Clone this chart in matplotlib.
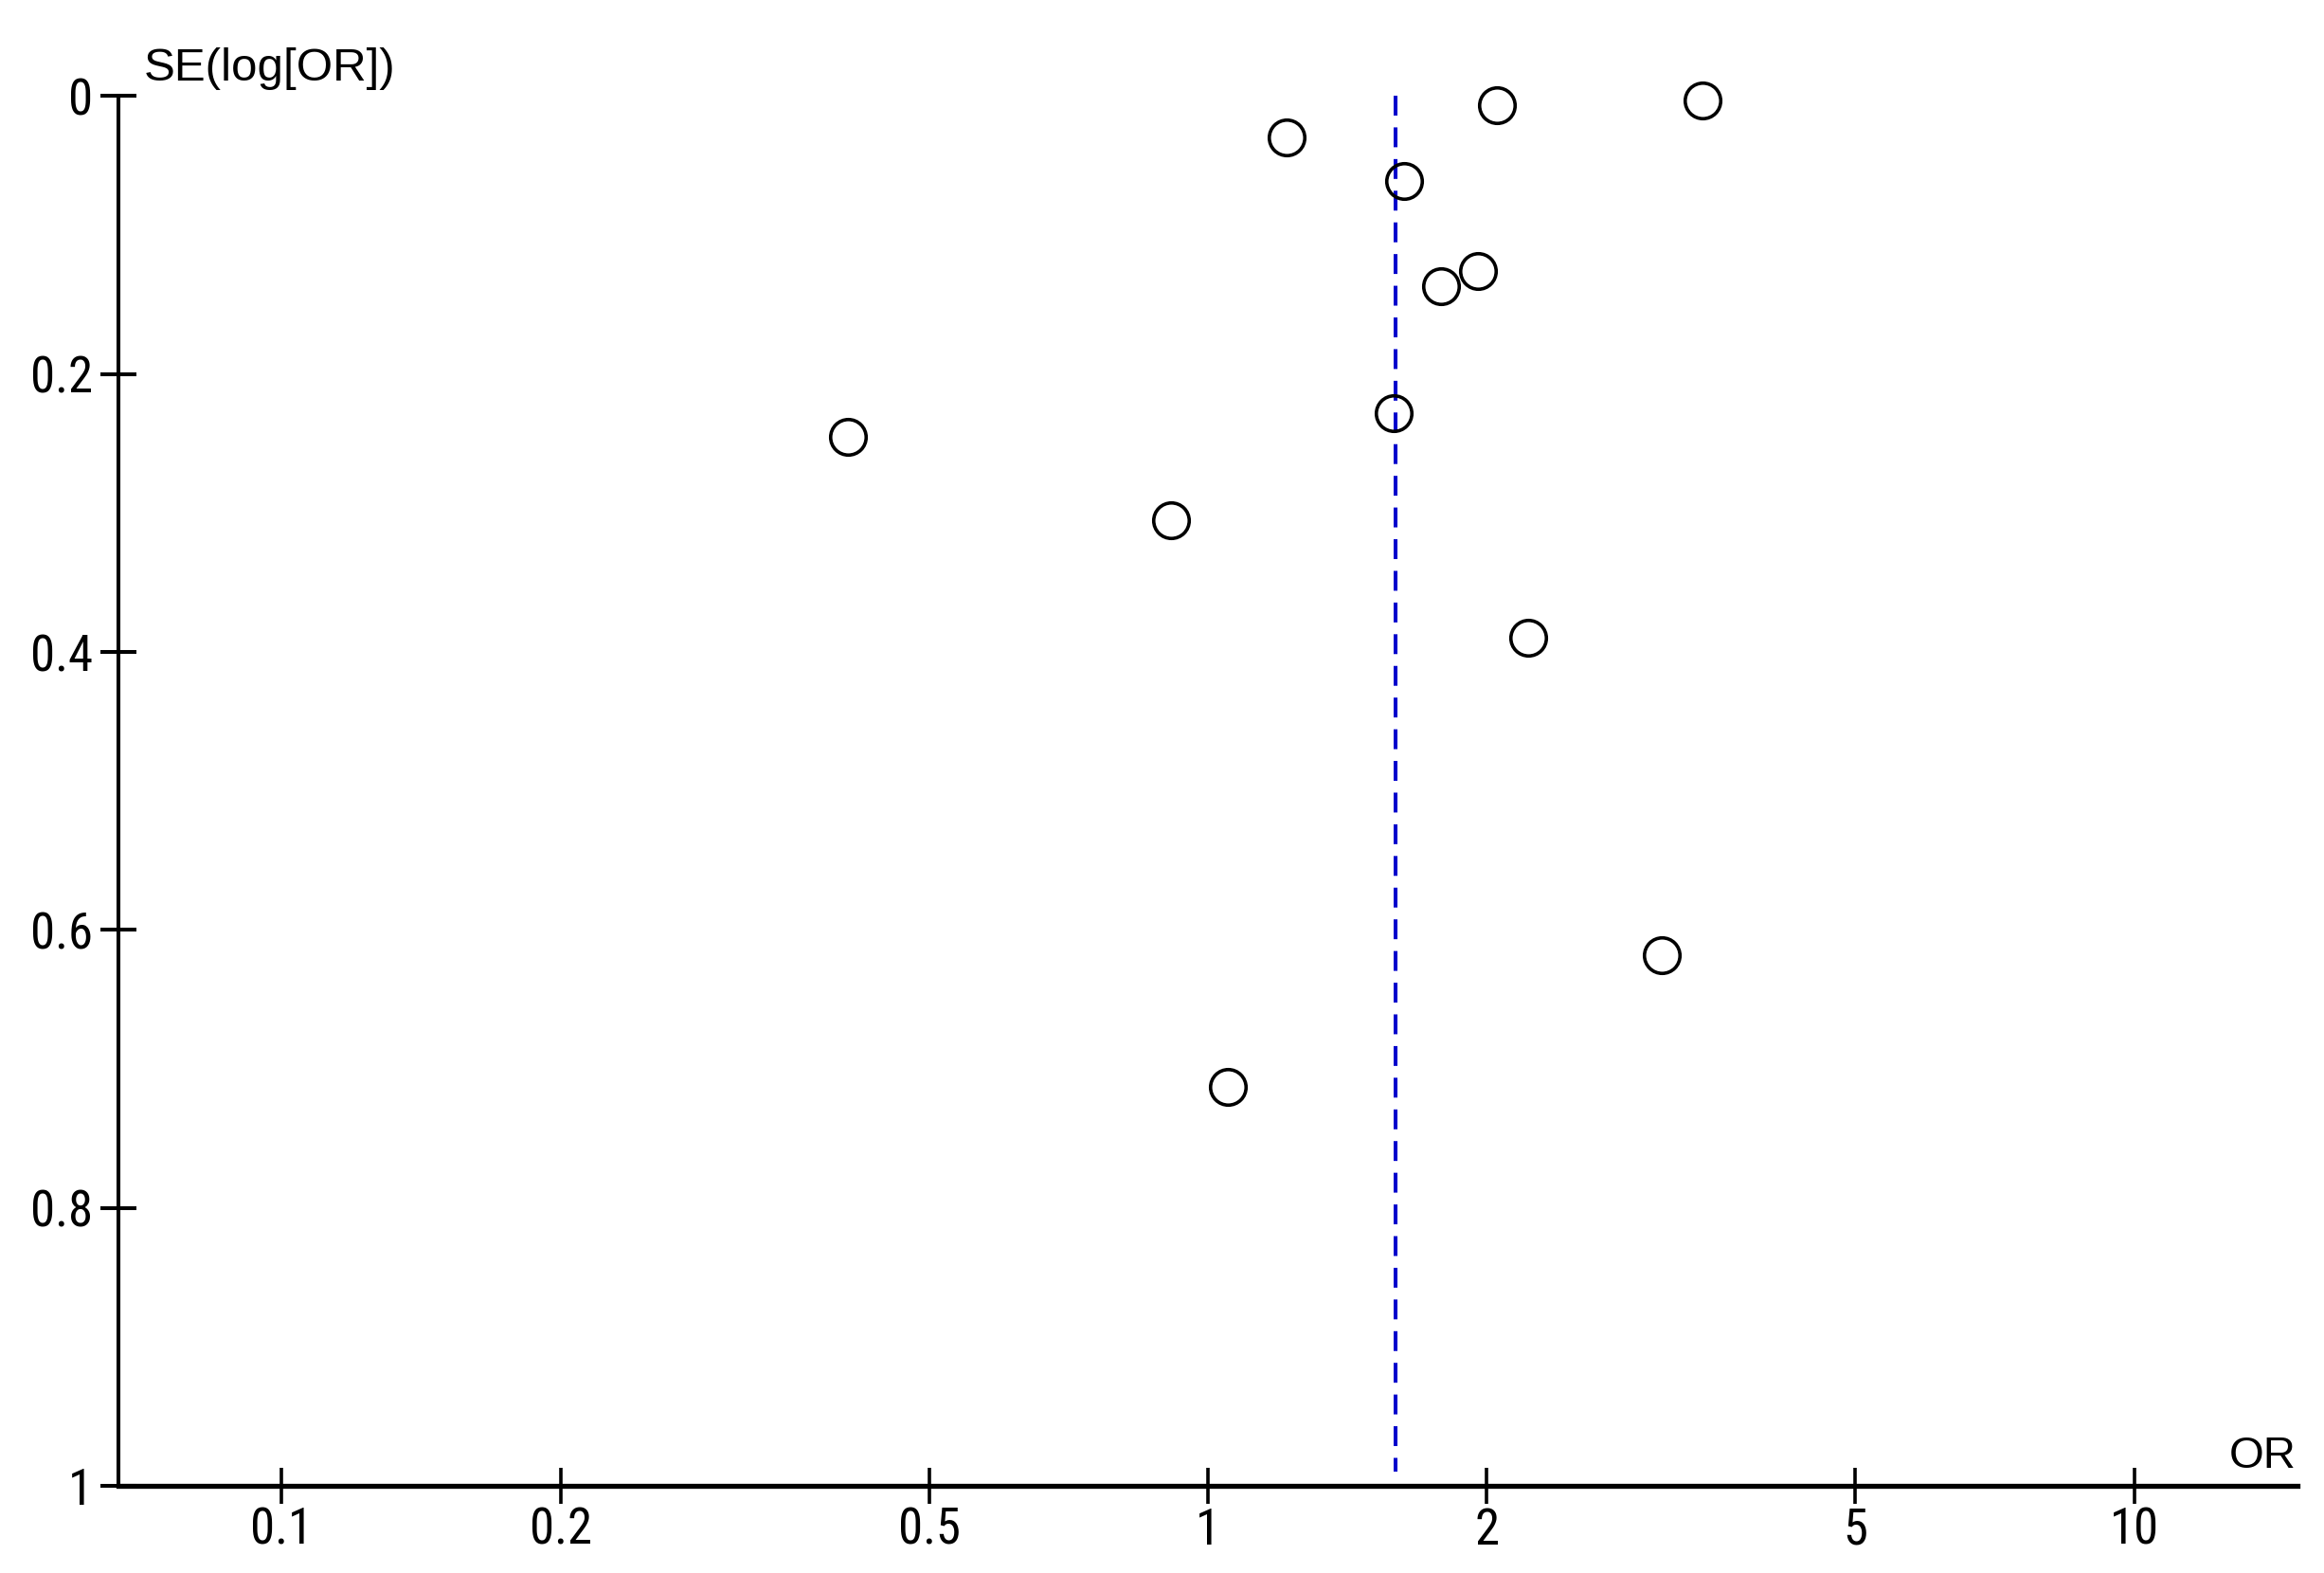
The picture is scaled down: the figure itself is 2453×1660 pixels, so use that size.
import matplotlib.pyplot as plt
from matplotlib.ticker import FixedLocator, FixedFormatter, NullLocator

# study estimates
odds_ratio = [3.42, 2.05, 1.215, 1.63, 1.955, 1.785, 1.585, 0.409, 0.913, 2.215, 3.09, 1.05]
se_log_or = [0.003, 0.0065, 0.030, 0.061, 0.126, 0.137, 0.228, 0.245, 0.305, 0.390, 0.618, 0.713]
pooled_or = 1.594
line_end = 0.99

x_ticks = [0.1, 0.2, 0.5, 1, 2, 5, 10]
x_labels = ['0.1', '0.2', '0.5', '1', '2', '5', '10']
y_ticks = [0, 0.2, 0.4, 0.6, 0.8, 1]
y_labels = ['0', '0.2', '0.4', '0.6', '0.8', '1']

plt.rcParams['font.family'] = ['Liberation Sans', 'DejaVu Sans']
narrow = ['Roboto Condensed', 'Liberation Sans']

fig = plt.figure(figsize=(24.53, 16.6), dpi=100)
ax = fig.add_axes([0.051, 0.0554, 0.9375, 0.8835])

ax.plot(odds_ratio, se_log_or, 'o', markersize=27, markerfacecolor='none',
        markeredgecolor='black', markeredgewidth=2.6, clip_on=False, zorder=3)
ax.vlines(pooled_or, 0, line_end, colors='#0000CC', linewidth=2.9,
          linestyles=(0, (5.2, 3.1)), zorder=2)

ax.set_xscale('log')
ax.set_xlim(1 / 15, 15)
ax.set_ylim(1, 0)

ax.xaxis.set_major_locator(FixedLocator(x_ticks))
ax.xaxis.set_major_formatter(FixedFormatter(x_labels))
ax.xaxis.set_minor_locator(NullLocator())
ax.yaxis.set_major_locator(FixedLocator(y_ticks))
ax.yaxis.set_major_formatter(FixedFormatter(y_labels))

ax.spines['top'].set_visible(False)
ax.spines['right'].set_visible(False)
ax.spines['left'].set_linewidth(2.9)
ax.spines['bottom'].set_linewidth(3.8)

ax.tick_params(axis='y', direction='inout', length=27, width=2.9,
               labelsize=38, pad=6)
ax.tick_params(axis='x', direction='inout', length=27, width=2.6,
               labelsize=38, pad=2)
for lbl in ax.get_xticklabels() + ax.get_yticklabels():
    lbl.set_family(narrow)

fig.text(152 / 2453, 1 - 85 / 1660, 'SE(log[OR])', fontsize=35.5,
         ha='left', va='baseline')
fig.text(2424 / 2453, 1 - 1549 / 1660, 'OR', fontsize=34,
         ha='right', va='baseline')

fig.savefig('out.png', dpi=100)
